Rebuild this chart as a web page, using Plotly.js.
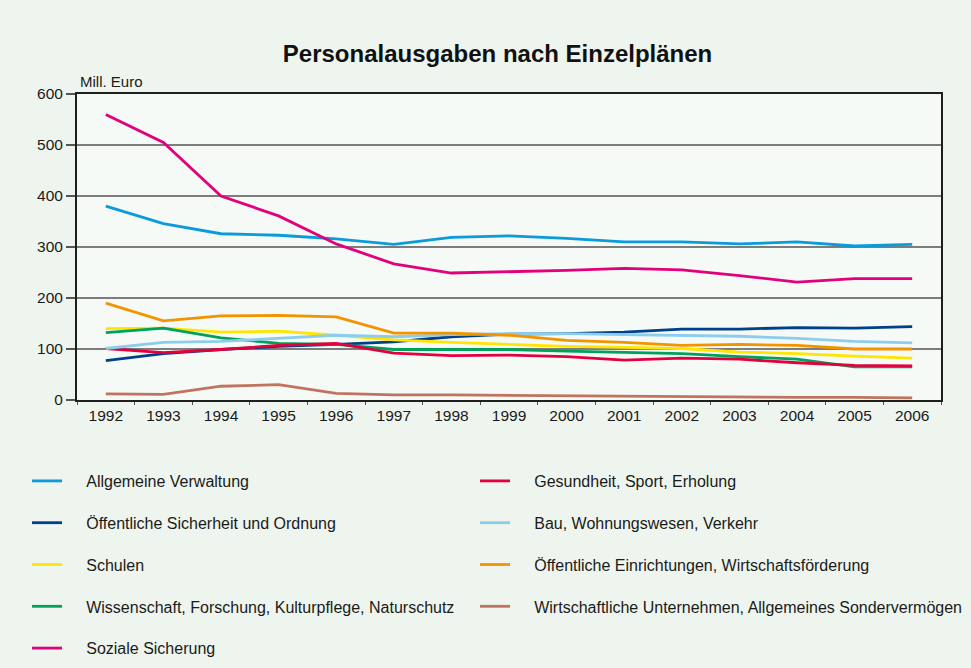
<!DOCTYPE html>
<html>
<head>
<meta charset="utf-8">
<script src="https://cdn.plot.ly/plotly-3.0.1.min.js"></script>
<style>html,body{margin:0;padding:0;background:#eef5ee;}#chart{width:971px;height:668px;}</style>
</head>
<body>
<div id="chart"></div>
<script>
const years = ["1992","1993","1994","1995","1996","1997","1998","1999","2000","2001","2002","2003","2004","2005","2006"];

const allgemeineVerwaltung = [380, 346, 326, 323, 316, 305, 319, 322, 317, 310, 310, 306, 310, 302, 305];
const oeffentlicheSicherheit = [77, 91, 99, 105, 109, 114, 124, 129, 130, 133, 139, 139, 142, 141, 144];
const schulen = [140, 141, 133, 135, 127, 118, 113, 109, 105, 103, 101, 94, 91, 86, 82];
const wissenschaft = [132, 141, 122, 111, 109, 99, 99, 99, 96, 94, 91, 85, 80, 65, 65];
const sozialeSicherung = [560, 505, 400, 361, 306, 267, 249, 251, 254, 258, 255, 244, 231, 238, 238];
const gesundheit = [101, 93, 99, 107, 111, 92, 87, 88, 85, 78, 82, 80, 73, 68, 67];
const bau = [101, 113, 115, 121, 127, 124, 128, 130, 130, 128, 126, 125, 121, 115, 112];
const oeffentlicheEinrichtungen = [190, 155, 165, 166, 163, 131, 131, 127, 117, 113, 107, 109, 107, 100, 100];
const wirtschaftlicheUnternehmen = [12, 11, 27, 30, 13, 10, 10, 9, 8, 7, 6, 6, 5, 5, 4];

const seriesNames = [
  "Allgemeine Verwaltung",
  "Öffentliche Sicherheit und Ordnung",
  "Schulen",
  "Wissenschaft, Forschung, Kulturpflege, Naturschutz",
  "Soziale Sicherung",
  "Gesundheit, Sport, Erholung",
  "Bau, Wohnungswesen, Verkehr",
  "Öffentliche Einrichtungen, Wirtschaftsförderung",
  "Wirtschaftliche Unternehmen, Allgemeines Sondervermögen"
];
const seriesValues = [allgemeineVerwaltung, oeffentlicheSicherheit, schulen, wissenschaft, sozialeSicherung,
  gesundheit, bau, oeffentlicheEinrichtungen, wirtschaftlicheUnternehmen];
const seriesColors = ["#0a9bdb", "#003f8c", "#ffe500", "#00a15a", "#e3007d",
  "#e4003c", "#8dcdec", "#f29400", "#c07460"];
const legendIds = ["legend","legend","legend","legend","legend","legend2","legend2","legend2","legend2"];

// visual gap between the legend line symbol and its text
const LEGEND_GAP = "\u2003\u2009";

const traces = seriesNames.map((name, i) => ({
  type: "scatter",
  mode: "lines",
  x: years,
  y: seriesValues[i],
  name: LEGEND_GAP + name,
  legend: legendIds[i],
  legendgroup: "g" + i,
  line: {color: seriesColors[i], width: 2.8},
  hovertemplate: name + "<br>%{x}: %{y}<extra></extra>"
}));

const FONT = "Liberation Sans, Arial, Helvetica, sans-serif";
const legendCommon = {
  xref: "container", yref: "container",
  xanchor: "left", yanchor: "top",
  orientation: "v",
  bgcolor: "rgba(0,0,0,0)",
  borderwidth: 0,
  font: {family: FONT, size: 16, color: "#1a1a1a"},
  traceorder: "grouped",
  tracegroupgap: 18,
  itemwidth: 30,
  itemclick: false, itemdoubleclick: false
};

const layout = {
  width: 971, height: 668,
  paper_bgcolor: "#eef5ee",
  plot_bgcolor: "#f5faf6",
  font: {family: FONT, size: 15.5, color: "#1a1a1a"},
  margin: {l: 77, r: 30, t: 94, b: 268, pad: 0, autoexpand: false},
  title: {
    text: "<b>Personalausgaben nach Einzelplänen</b>",
    font: {family: FONT, size: 24, color: "#111"},
    xref: "container", x: 0.5124, xanchor: "center",
    yref: "container", y: 1 - 54/668, yanchor: "middle"
  },
  showlegend: true,
  legend: Object.assign({}, legendCommon, {x: 27/971, y: 1 - 464/668}),
  legend2: Object.assign({}, legendCommon, {x: 475/971, y: 1 - 464/668}),
  xaxis: {
    type: "category",
    range: [-0.5, 14.5],
    showgrid: false,
    showline: true, linecolor: "#1e1e1e", linewidth: 2, mirror: true,
    ticks: "outside", tickson: "boundaries", ticklen: 3, tickcolor: "#555", tickwidth: 1,
    tickfont: {family: FONT, size: 15.5, color: "#1a1a1a"},
    fixedrange: true
  },
  yaxis: {
    range: [0, 600],
    tickmode: "array",
    tickvals: [0, 100, 200, 300, 400, 500, 600],
    showgrid: true, gridcolor: "#7d7d7d", gridwidth: 1.5,
    zeroline: false,
    showline: true, linecolor: "#1e1e1e", linewidth: 2, mirror: true,
    ticks: "outside", ticklen: 9, tickcolor: "#555", tickwidth: 1.5,
    tickfont: {family: FONT, size: 15.5, color: "#1a1a1a"},
    fixedrange: true
  },
  annotations: [{
    text: "Mill. Euro",
    xref: "paper", yref: "paper",
    x: 0, y: 1, xanchor: "left", yanchor: "bottom",
    xshift: 1, yshift: 2,
    showarrow: false,
    font: {family: FONT, size: 15, color: "#1a1a1a"}
  }]
};

Plotly.newPlot("chart", traces, layout, {displayModeBar: false});
</script>
</body>
</html>
